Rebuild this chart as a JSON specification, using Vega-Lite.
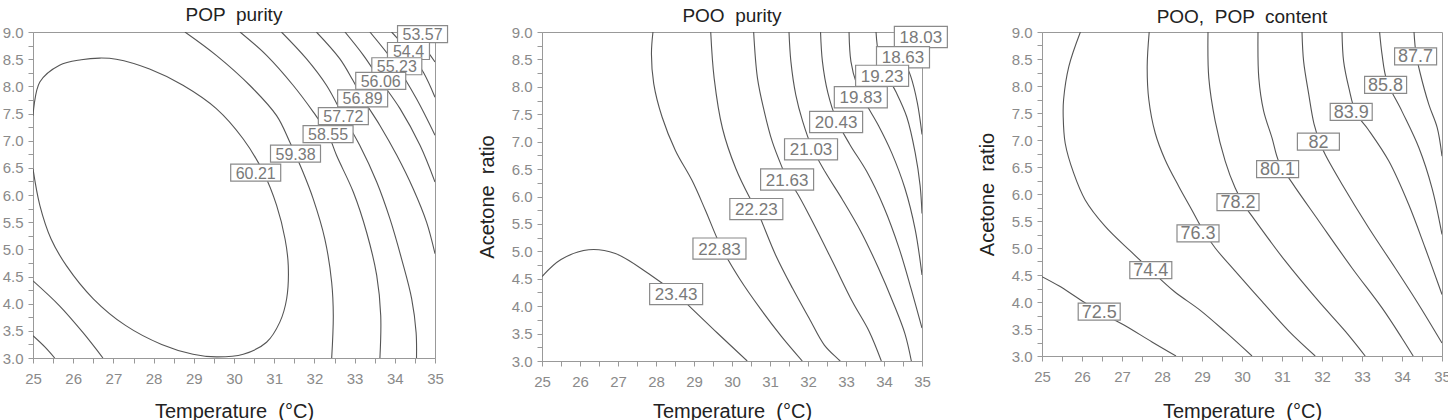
{
  "$schema": "https://vega.github.io/schema/vega-lite/v6.json",
  "background": "white",
  "padding": {"left": 1, "top": 5, "right": 5, "bottom": 5},
  "config": {
    "font": "Liberation Sans",
    "view": {"stroke": "#999999", "strokeWidth": 1},
    "axis": {"grid": false, "domainColor": "#999999", "tickColor": "#999999", "labelColor": "#8a8a8a", "labelFontSize": 15, "labelFont": "Liberation Sans", "titleFont": "Liberation Sans", "titleFontSize": 20, "titleFontWeight": "normal", "titleColor": "#222222", "tickSize": 5, "labelOverlap": false, "labelBound": false, "labelFlush": false},
    "axisX": {"labelPadding": 8, "titlePadding": 15},
    "axisY": {"labelPadding": 5, "titlePadding": 14},
    "title": {"fontSize": 19, "fontWeight": "normal", "color": "#222222", "font": "Liberation Sans", "offset": -2}
  },
  "spacing": 25,
  "hconcat": [
    {
      "width": 402, "height": 326,
      "title": "POP \u00a0purity",
      "encoding": {
        "x": {"field": "x", "type": "quantitative", "scale": {"domain": [25, 35], "nice": false, "zero": false}, "axis": {"title": "Temperature \u00a0(°C)", "titlePadding": 15, "values": [25,25.5,26,26.5,27,27.5,28,28.5,29,29.5,30,30.5,31,31.5,32,32.5,33,33.5,34,34.5,35], "labelExpr": "datum.value % 1 == 0 ? format(datum.value, 'd') : ''"}},
        "y": {"field": "y", "type": "quantitative", "scale": {"domain": [3, 9], "nice": false, "zero": false}, "axis": {"title": null, "values": [3,3.25,3.5,3.75,4,4.25,4.5,4.75,5,5.25,5.5,5.75,6,6.25,6.5,6.75,7,7.25,7.5,7.75,8,8.25,8.5,8.75,9], "labelExpr": "(datum.value * 4) % 2 == 0 ? format(datum.value, '.1f') : ''"}}
      },
      "layer": [
        {
          "data": {"values": [
            {"c":"e","x":25,"y":7.46},{"c":"e","x":25.17,"y":8.08},{"c":"e","x":25.66,"y":8.39},{"c":"e","x":26.2,"y":8.49},{"c":"e","x":26.66,"y":8.52},{"c":"e","x":27.07,"y":8.5},{"c":"e","x":27.9,"y":8.32},{"c":"e","x":28.73,"y":8.02},{"c":"e","x":29.56,"y":7.59},{"c":"e","x":30.23,"y":7.03},{"c":"e","x":30.73,"y":6.42},{"c":"e","x":31.06,"y":5.81},{"c":"e","x":31.27,"y":5.19},{"c":"e","x":31.35,"y":4.7},{"c":"e","x":31.31,"y":4.09},{"c":"e","x":31.14,"y":3.66},{"c":"e","x":30.81,"y":3.29},{"c":"e","x":30.23,"y":3.07},{"c":"e","x":29.56,"y":3.02},{"c":"e","x":28.98,"y":3.07},{"c":"e","x":28.2,"y":3.25},{"c":"e","x":27.3,"y":3.6},{"c":"e","x":26.5,"y":4.09},{"c":"e","x":25.83,"y":4.7},{"c":"e","x":25.45,"y":5.19},{"c":"e","x":25.17,"y":5.81},{"c":"e","x":25,"y":6.48},
            {"c":"l1","x":25,"y":4.42},{"c":"l1","x":25.66,"y":3.96},{"c":"l1","x":26.24,"y":3.47},{"c":"l1","x":26.74,"y":3.0},
            {"c":"l2","x":25,"y":3.41},{"c":"l2","x":25.3,"y":3.2},{"c":"l2","x":25.54,"y":3.0},
            {"c":"a","x":28.78,"y":9},{"c":"a","x":29.56,"y":8.57},{"c":"a","x":30.39,"y":8.02},{"c":"a","x":31.06,"y":7.46},{"c":"a","x":31.39,"y":6.97},{"c":"a","x":31.7,"y":6.45},{"c":"a","x":31.97,"y":5.93},{"c":"a","x":32.26,"y":5.19},{"c":"a","x":32.43,"y":4.39},{"c":"a","x":32.47,"y":3.78},{"c":"a","x":32.43,"y":3.0},
            {"c":"b","x":30.15,"y":9},{"c":"b","x":30.81,"y":8.57},{"c":"b","x":31.47,"y":8.02},{"c":"b","x":31.97,"y":7.53},{"c":"b","x":32.34,"y":7.12},{"c":"b","x":32.55,"y":6.73},{"c":"b","x":32.97,"y":6.05},{"c":"b","x":33.3,"y":5.31},{"c":"b","x":33.55,"y":4.52},{"c":"b","x":33.65,"y":3.78},{"c":"b","x":33.63,"y":3.0},
            {"c":"c","x":31.18,"y":9},{"c":"c","x":31.8,"y":8.51},{"c":"c","x":32.3,"y":8.02},{"c":"c","x":32.72,"y":7.45},{"c":"c","x":33.13,"y":6.91},{"c":"c","x":33.55,"y":6.24},{"c":"c","x":33.88,"y":5.56},{"c":"c","x":34.17,"y":4.82},{"c":"c","x":34.42,"y":4.09},{"c":"c","x":34.53,"y":3.47},{"c":"c","x":34.54,"y":3.0},
            {"c":"d","x":32.05,"y":9},{"c":"d","x":32.63,"y":8.51},{"c":"d","x":32.95,"y":8.12},{"c":"d","x":33.2,"y":7.78},{"c":"d","x":33.63,"y":7.28},{"c":"d","x":34.05,"y":6.73},{"c":"d","x":34.46,"y":6.11},{"c":"d","x":34.79,"y":5.5},{"c":"d","x":35,"y":4.92},
            {"c":"f","x":32.76,"y":9},{"c":"f","x":33.22,"y":8.57},{"c":"f","x":33.65,"y":8.1},{"c":"f","x":34.13,"y":7.59},{"c":"f","x":34.63,"y":6.91},{"c":"f","x":35,"y":6.24},
            {"c":"g","x":33.38,"y":9},{"c":"g","x":34.05,"y":8.37},{"c":"g","x":34.54,"y":7.77},{"c":"g","x":35,"y":7.1},
            {"c":"h","x":33.92,"y":9},{"c":"h","x":34.34,"y":8.65},{"c":"h","x":34.71,"y":8.26},{"c":"h","x":35,"y":7.8},
            {"c":"k","x":34.38,"y":9},{"c":"k","x":34.7,"y":8.75},{"c":"k","x":35,"y":8.45}
          ]},
          "mark": {"type": "line", "clip": true, "color": "#555555", "strokeWidth": 1.1, "interpolate": "catmull-rom"},
          "encoding": {"detail": {"field": "c"}, "order": {"value": null}}
        },
        {
          "data": {"name": "lab1", "values": [
            {"label":"53.57","x":34.69,"y":8.96},{"label":"54.4","x":34.34,"y":8.65},{"label":"55.23","x":34.05,"y":8.37},{"label":"56.06","x":33.65,"y":8.1},{"label":"56.89","x":33.2,"y":7.78},{"label":"57.72","x":32.72,"y":7.45},{"label":"58.55","x":32.34,"y":7.12},{"label":"59.38","x":31.53,"y":6.76},{"label":"60.21","x":30.54,"y":6.41}
          ]},
          "transform": [{"calculate": "length(datum.label)", "as": "n"}],
          "mark": {"type": "point", "filled": true, "fill": "white", "stroke": "#8a8a8a", "strokeWidth": 1.2, "opacity": 1, "size": 2500},
          "encoding": {"shape": {"field": "n", "type": "nominal", "scale": {"domain": [4, 5], "range": ["M-0.84,-0.34H0.84V0.34H-0.84Z", "M-1,-0.34H1V0.34H-1Z"]}, "legend": null}}
        },
        {
          "data": {"name": "lab1"},
          "mark": {"type": "text", "fontSize": 16, "color": "#7a7a7a", "align": "center", "baseline": "middle", "dy": 1},
          "encoding": {"text": {"field": "label"}}
        }
      ]
    },
    {
      "width": 380, "height": 329,
      "title": "POO \u00a0purity",
      "encoding": {
        "x": {"field": "x", "type": "quantitative", "scale": {"domain": [25, 35], "nice": false, "zero": false}, "axis": {"title": "Temperature \u00a0(°C)", "titlePadding": 12, "values": [25,25.5,26,26.5,27,27.5,28,28.5,29,29.5,30,30.5,31,31.5,32,32.5,33,33.5,34,34.5,35], "labelExpr": "datum.value % 1 == 0 ? format(datum.value, 'd') : ''"}},
        "y": {"field": "y", "type": "quantitative", "scale": {"domain": [3, 9], "nice": false, "zero": false}, "axis": {"title": "Acetone \u00a0ratio", "titlePadding": 14, "values": [3,3.25,3.5,3.75,4,4.25,4.5,4.75,5,5.25,5.5,5.75,6,6.25,6.5,6.75,7,7.25,7.5,7.75,8,8.25,8.5,8.75,9], "labelExpr": "(datum.value * 4) % 2 == 0 ? format(datum.value, '.1f') : ''"}}
      },
      "layer": [
        {
          "data": {"values": [
            {"c":"m","x":25,"y":4.54},{"c":"m","x":25.5,"y":4.85},{"c":"m","x":26.23,"y":5.03},{"c":"m","x":26.93,"y":4.96},{"c":"m","x":27.81,"y":4.59},{"c":"m","x":28.53,"y":4.22},{"c":"m","x":28.95,"y":3.95},{"c":"m","x":29.6,"y":3.52},{"c":"m","x":30.4,"y":3.0},
            {"c":"n","x":27.92,"y":9},{"c":"n","x":27.88,"y":8.6},{"c":"n","x":27.94,"y":8.06},{"c":"n","x":28.16,"y":7.45},{"c":"n","x":28.51,"y":6.84},{"c":"n","x":28.95,"y":6.29},{"c":"n","x":29.3,"y":5.75},{"c":"n","x":29.7,"y":5.1},{"c":"n","x":30.2,"y":4.5},{"c":"n","x":30.75,"y":3.95},{"c":"n","x":31.3,"y":3.45},{"c":"n","x":31.85,"y":3.0},
            {"c":"o","x":29.44,"y":9},{"c":"o","x":29.53,"y":8.16},{"c":"o","x":29.75,"y":7.24},{"c":"o","x":30.1,"y":6.51},{"c":"o","x":30.45,"y":6.0},{"c":"o","x":30.64,"y":5.77},{"c":"o","x":31.15,"y":4.93},{"c":"o","x":31.59,"y":4.33},{"c":"o","x":32.03,"y":3.78},{"c":"o","x":32.43,"y":3.29},{"c":"o","x":32.85,"y":3.0},
            {"c":"q","x":30.57,"y":9},{"c":"q","x":30.67,"y":8.16},{"c":"q","x":30.85,"y":7.55},{"c":"q","x":31.06,"y":7.0},{"c":"q","x":31.33,"y":6.51},{"c":"q","x":31.46,"y":6.3},{"c":"q","x":31.68,"y":6.1},{"c":"q","x":32.12,"y":5.54},{"c":"q","x":32.65,"y":4.81},{"c":"q","x":33.17,"y":4.08},{"c":"q","x":33.61,"y":3.54},{"c":"q","x":33.93,"y":3.0},
            {"c":"r","x":31.5,"y":9},{"c":"r","x":31.55,"y":8.46},{"c":"r","x":31.68,"y":7.85},{"c":"r","x":31.86,"y":7.37},{"c":"r","x":32.1,"y":6.9},{"c":"r","x":32.45,"y":6.45},{"c":"r","x":32.9,"y":5.95},{"c":"r","x":33.4,"y":5.35},{"c":"r","x":33.85,"y":4.7},{"c":"r","x":34.25,"y":4.05},{"c":"r","x":34.55,"y":3.5},{"c":"r","x":34.72,"y":3.0},
            {"c":"s","x":32.33,"y":9},{"c":"s","x":32.38,"y":8.46},{"c":"s","x":32.52,"y":7.9},{"c":"s","x":32.75,"y":7.4},{"c":"s","x":33.1,"y":6.95},{"c":"s","x":33.55,"y":6.45},{"c":"s","x":34.0,"y":5.8},{"c":"s","x":34.4,"y":5.05},{"c":"s","x":34.72,"y":4.3},{"c":"s","x":35,"y":3.6},
            {"c":"t","x":33.08,"y":9},{"c":"t","x":33.13,"y":8.46},{"c":"t","x":33.28,"y":8.05},{"c":"t","x":33.52,"y":7.7},{"c":"t","x":33.85,"y":7.3},{"c":"t","x":34.2,"y":6.8},{"c":"t","x":34.55,"y":6.15},{"c":"t","x":34.82,"y":5.4},{"c":"t","x":35,"y":4.57},
            {"c":"u","x":33.79,"y":9},{"c":"u","x":33.86,"y":8.6},{"c":"u","x":34.05,"y":8.25},{"c":"u","x":34.32,"y":7.9},{"c":"u","x":34.6,"y":7.45},{"c":"u","x":34.82,"y":6.8},{"c":"u","x":34.95,"y":6.2},{"c":"u","x":35,"y":5.69},
            {"c":"v","x":34.3,"y":9},{"c":"v","x":34.45,"y":8.6},{"c":"v","x":34.7,"y":8.2},{"c":"v","x":34.88,"y":7.7},{"c":"v","x":35,"y":7.13},
            {"c":"w","x":34.78,"y":9},{"c":"w","x":34.9,"y":8.8},{"c":"w","x":35,"y":8.6}
          ]},
          "mark": {"type": "line", "clip": true, "color": "#555555", "strokeWidth": 1.1, "interpolate": "catmull-rom"},
          "encoding": {"detail": {"field": "c"}, "order": {"value": null}}
        },
        {
          "data": {"name": "lab2", "values": [
            {"label":"18.03","x":34.97,"y":8.91},{"label":"18.63","x":34.5,"y":8.54},{"label":"19.23","x":33.95,"y":8.2},{"label":"19.83","x":33.39,"y":7.81},{"label":"20.43","x":32.74,"y":7.36},{"label":"21.03","x":32.08,"y":6.86},{"label":"21.63","x":31.45,"y":6.31},{"label":"22.23","x":30.64,"y":5.77},{"label":"22.83","x":29.67,"y":5.05},{"label":"23.43","x":28.53,"y":4.22}
          ]},
          "mark": {"type": "point", "filled": true, "fill": "white", "stroke": "#8a8a8a", "strokeWidth": 1.2, "opacity": 1, "size": 2809, "shape": "M-1,-0.4H1V0.4H-1Z"}
        },
        {
          "data": {"name": "lab2"},
          "mark": {"type": "text", "fontSize": 17, "color": "#7a7a7a", "align": "center", "baseline": "middle", "dy": 1},
          "encoding": {"text": {"field": "label"}}
        }
      ]
    },
    {
      "width": 400, "height": 324,
      "title": "POO, \u00a0POP \u00a0content",
      "encoding": {
        "x": {"field": "x", "type": "quantitative", "scale": {"domain": [25, 35], "nice": false, "zero": false}, "axis": {"title": "Temperature \u00a0(°C)", "titlePadding": 17, "values": [25,25.5,26,26.5,27,27.5,28,28.5,29,29.5,30,30.5,31,31.5,32,32.5,33,33.5,34,34.5,35], "labelExpr": "datum.value % 1 == 0 ? format(datum.value, 'd') : ''"}},
        "y": {"field": "y", "type": "quantitative", "scale": {"domain": [3, 9], "nice": false, "zero": false}, "axis": {"title": "Acetone \u00a0ratio", "titlePadding": 14, "values": [3,3.25,3.5,3.75,4,4.25,4.5,4.75,5,5.25,5.5,5.75,6,6.25,6.5,6.75,7,7.25,7.5,7.75,8,8.25,8.5,8.75,9], "labelExpr": "(datum.value * 4) % 2 == 0 ? format(datum.value, '.1f') : ''"}}
      },
      "layer": [
        {
          "data": {"values": [
            {"c":"a","x":25,"y":4.47},{"c":"a","x":25.42,"y":4.3},{"c":"a","x":25.9,"y":4.07},{"c":"a","x":26.43,"y":3.82},{"c":"a","x":27.06,"y":3.57},{"c":"a","x":27.75,"y":3.26},{"c":"a","x":28.35,"y":3.0},
            {"c":"b","x":25.96,"y":9},{"c":"b","x":25.67,"y":8.36},{"c":"b","x":25.54,"y":7.75},{"c":"b","x":25.53,"y":7.44},{"c":"b","x":25.58,"y":6.94},{"c":"b","x":25.79,"y":6.39},{"c":"b","x":26.08,"y":5.89},{"c":"b","x":26.58,"y":5.4},{"c":"b","x":27.2,"y":4.95},{"c":"b","x":27.72,"y":4.59},{"c":"b","x":28.3,"y":4.2},{"c":"b","x":28.95,"y":3.85},{"c":"b","x":29.58,"y":3.45},{"c":"b","x":30.25,"y":3.0},
            {"c":"d","x":27.68,"y":9},{"c":"d","x":27.63,"y":8.36},{"c":"d","x":27.67,"y":7.75},{"c":"d","x":27.83,"y":7.13},{"c":"d","x":28.08,"y":6.63},{"c":"d","x":28.42,"y":6.14},{"c":"d","x":28.75,"y":5.7},{"c":"d","x":29.05,"y":5.3},{"c":"d","x":29.33,"y":5.0},{"c":"d","x":29.83,"y":4.57},{"c":"d","x":30.5,"y":4.01},{"c":"d","x":31.17,"y":3.46},{"c":"d","x":31.83,"y":3.0},
            {"c":"f","x":29.15,"y":9},{"c":"f","x":29.17,"y":8.15},{"c":"f","x":29.33,"y":7.35},{"c":"f","x":29.58,"y":6.61},{"c":"f","x":29.83,"y":6.11},{"c":"f","x":30.05,"y":5.8},{"c":"f","x":30.25,"y":5.59},{"c":"f","x":31.08,"y":4.76},{"c":"f","x":31.92,"y":4.01},{"c":"f","x":32.58,"y":3.46},{"c":"f","x":33.08,"y":3.0},
            {"c":"g","x":30.4,"y":9},{"c":"g","x":30.42,"y":8.15},{"c":"g","x":30.54,"y":7.54},{"c":"g","x":30.75,"y":7.04},{"c":"g","x":30.92,"y":6.6},{"c":"g","x":31.25,"y":6.21},{"c":"g","x":31.92,"y":5.5},{"c":"g","x":32.75,"y":4.63},{"c":"g","x":33.5,"y":3.89},{"c":"g","x":34.0,"y":3.33},{"c":"g","x":34.28,"y":3.0},
            {"c":"h","x":31.5,"y":9},{"c":"h","x":31.54,"y":8.46},{"c":"h","x":31.67,"y":7.84},{"c":"h","x":31.8,"y":7.3},{"c":"h","x":31.95,"y":6.95},{"c":"h","x":32.08,"y":6.73},{"c":"h","x":32.5,"y":6.18},{"c":"h","x":33.17,"y":5.37},{"c":"h","x":33.83,"y":4.63},{"c":"h","x":34.42,"y":3.95},{"c":"h","x":35,"y":3.24},
            {"c":"i","x":32.5,"y":9},{"c":"i","x":32.54,"y":8.46},{"c":"i","x":32.67,"y":7.97},{"c":"i","x":32.85,"y":7.5},{"c":"i","x":33.15,"y":7.2},{"c":"i","x":33.67,"y":6.61},{"c":"i","x":34.17,"y":5.8},{"c":"i","x":34.58,"y":5.0},{"c":"i","x":35,"y":4.14},
            {"c":"j","x":33.44,"y":9},{"c":"j","x":33.5,"y":8.59},{"c":"j","x":33.62,"y":8.1},{"c":"j","x":34.0,"y":7.53},{"c":"j","x":34.42,"y":6.86},{"c":"j","x":34.75,"y":6.11},{"c":"j","x":35,"y":5.25},
            {"c":"k","x":34.3,"y":9},{"c":"k","x":34.35,"y":8.6},{"c":"k","x":34.45,"y":8.25},{"c":"k","x":34.67,"y":7.66},{"c":"k","x":34.88,"y":7.23},{"c":"k","x":35,"y":6.7}
          ]},
          "mark": {"type": "line", "clip": true, "color": "#555555", "strokeWidth": 1.1, "interpolate": "catmull-rom"},
          "encoding": {"detail": {"field": "c"}, "order": {"value": null}}
        },
        {
          "data": {"name": "lab3", "values": [
            {"label":"87.7","x":34.34,"y":8.55},{"label":"85.8","x":33.59,"y":8.02},{"label":"83.9","x":32.73,"y":7.52},{"label":"82","x":31.91,"y":6.97},{"label":"80.1","x":30.89,"y":6.46},{"label":"78.2","x":29.9,"y":5.85},{"label":"76.3","x":28.9,"y":5.27},{"label":"74.4","x":27.72,"y":4.59},{"label":"72.5","x":26.43,"y":3.82}
          ]},
          "transform": [{"calculate": "length(datum.label)", "as": "n"}],
          "mark": {"type": "point", "filled": true, "fill": "white", "stroke": "#8a8a8a", "strokeWidth": 1.2, "opacity": 1, "size": 2500},
          "encoding": {"shape": {"field": "n", "type": "nominal", "scale": {"domain": [2, 4], "range": ["M-0.68,-0.54H0.68V0.54H-0.68Z", "M-1,-0.54H1V0.54H-1Z"]}, "legend": null}}
        },
        {
          "data": {"name": "lab3"},
          "mark": {"type": "text", "fontSize": 18, "color": "#7a7a7a", "align": "center", "baseline": "middle", "dy": 1},
          "encoding": {"text": {"field": "label"}}
        }
      ]
    }
  ]
}
